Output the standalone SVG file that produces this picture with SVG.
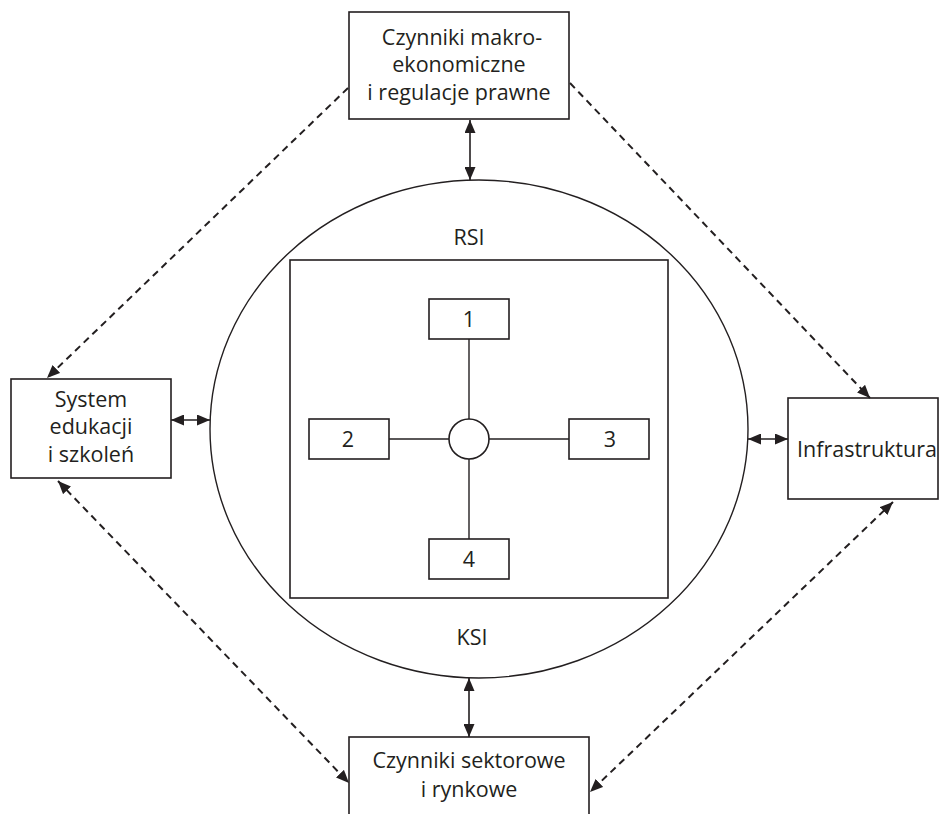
<svg xmlns="http://www.w3.org/2000/svg" width="940" height="814" viewBox="0 0 940 814">
  <defs>
    <style>
      .box { fill: #ffffff; stroke: #231f20; stroke-width: 1.6; }
      .thin { fill: none; stroke: #231f20; stroke-width: 1.4; }
      .label { font-family: "Open Sans", "Liberation Sans", sans-serif; font-size: 21.5px; fill: #231f20; text-anchor: middle; }
      .solid { fill: none; stroke: #231f20; stroke-width: 1.6; }
      .dash { fill: none; stroke: #231f20; stroke-width: 2; stroke-dasharray: 7 5; }
    </style>
    <marker id="head" viewBox="0 0 13 11" refX="13" refY="5.5" markerWidth="13" markerHeight="11" markerUnits="userSpaceOnUse" orient="auto-start-reverse">
      <path d="M0,0 L13,5.5 L0,11 Z" fill="#231f20"/>
    </marker>
  </defs>
  <rect width="940" height="814" fill="#ffffff"/>

  <!-- outer system boundary and inner core -->
  <g id="rsi-ksi">
    <ellipse class="thin" cx="479" cy="429" rx="269" ry="249"/>
    <text class="label" x="469" y="245">RSI</text>
    <text class="label" x="472" y="645">KSI</text>
    <rect class="box" x="290" y="260" width="378" height="338"/>
  </g>

  <!-- spokes of the core -->
  <g id="core-links">
    <line class="thin" x1="469" y1="339" x2="469" y2="419"/>
    <line class="thin" x1="469" y1="459" x2="469" y2="539"/>
    <line class="thin" x1="389" y1="439" x2="449" y2="439"/>
    <line class="thin" x1="489" y1="439" x2="569" y2="439"/>
  </g>
  <g id="hub"><circle class="box" cx="469" cy="439" r="20"/></g>
  <g id="n1"><rect class="box" x="429" y="299" width="80" height="40"/><text class="label" x="469" y="327">1</text></g>
  <g id="n2"><rect class="box" x="309" y="419" width="80" height="40"/><text class="label" x="348" y="447">2</text></g>
  <g id="n3"><rect class="box" x="569" y="419" width="80" height="40"/><text class="label" x="610" y="447">3</text></g>
  <g id="n4"><rect class="box" x="429" y="539" width="80" height="40"/><text class="label" x="469" y="567">4</text></g>

  <!-- surrounding factors -->
  <g id="macro">
    <rect class="box" x="349" y="12" width="220" height="107"/>
    <text class="label" x="462" y="45">Czynniki makro-</text>
    <text class="label" x="459" y="72">ekonomiczne</text>
    <text class="label" x="459" y="100">i regulacje prawne</text>
  </g>
  <g id="education">
    <rect class="box" x="11" y="379" width="160" height="99"/>
    <text class="label" x="91" y="407">System</text>
    <text class="label" x="91" y="434">edukacji</text>
    <text class="label" x="91" y="462">i szkoleń</text>
  </g>
  <g id="infrastructure">
    <rect class="box" x="788" y="398" width="150" height="101"/>
    <text class="label" x="867" y="457">Infrastruktura</text>
  </g>
  <g id="sector">
    <rect class="box" x="349" y="737" width="240" height="90"/>
    <text class="label" x="469" y="768">Czynniki sektorowe</text>
    <text class="label" x="469" y="797">i rynkowe</text>
  </g>

  <!-- connectors -->
  <g id="connectors">
    <line class="solid" x1="470" y1="120" x2="470" y2="180" marker-start="url(#head)" marker-end="url(#head)"/>
    <line class="solid" x1="469" y1="678" x2="469" y2="737" marker-start="url(#head)" marker-end="url(#head)"/>
    <line class="solid" x1="171" y1="420" x2="210" y2="420" marker-start="url(#head)" marker-end="url(#head)"/>
    <line class="solid" x1="748" y1="439" x2="788" y2="439" marker-start="url(#head)" marker-end="url(#head)"/>
    <line class="dash" x1="348" y1="88" x2="47" y2="378" marker-end="url(#head)"/>
    <line class="dash" x1="570" y1="83" x2="870" y2="398" marker-end="url(#head)"/>
    <line class="dash" x1="58" y1="481" x2="349" y2="783" marker-start="url(#head)" marker-end="url(#head)"/>
    <line class="dash" x1="893" y1="502" x2="590" y2="792" marker-start="url(#head)" marker-end="url(#head)"/>
  </g>
</svg>
